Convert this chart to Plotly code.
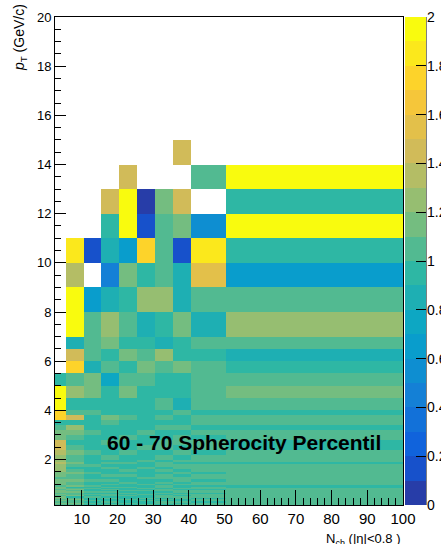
import plotly.graph_objects as go

# ---- bin edges ----
x_edges = [2.5, 5.5, 10.5, 15.5, 20.5, 25.5, 30.5, 35.5, 40.5, 50.5, 100]
y_edges = [0.15, 0.2, 0.25, 0.3, 0.35, 0.4, 0.45, 0.5, 0.55, 0.6, 0.65, 0.7, 0.75, 0.8, 0.85, 0.9, 0.95, 1.0,
           1.1, 1.2, 1.3, 1.4, 1.5, 1.6, 1.7, 1.8, 1.9, 2.0,
           2.2, 2.4, 2.6, 2.8, 3.0, 3.2, 3.4, 3.6, 3.8, 4.0,
           4.5, 5.0, 5.5, 6.0, 6.5, 7.0,
           8.0, 9.0, 10.0, 11.0, 12.0, 13.0, 14.0, 15.0,
           16.0, 18.0, 20.0]

N = None
# ---- values per Nch column, from lowest pT bin to highest ----
col_3_5 = [1.05, 1.1, 1.05, 1.15, 1.05, 1.1, 1.15, 1.05, 1.1, 1.05, 1.15, 1.1, 1.05, 1.15, 1.1, 1.05, 1.15,
           1.1, 1.15, 1.05, 1.15, 1.1, 1.2, 1.25, 1.2, 1.3, 1.25,
           1.25, 1.3, 1.4, 1.45, 1.15, 1.1, 1.05, 0.9, 1.7, 1.75,
           2.5, 2.5, 0.95, N, N, N,
           N, N, N, N, N, N, N, N,
           N, N, N]
col_6_10 = [1.05, 1.1, 1.05, 1.0, 1.1, 1.05, 0.95, 1.1, 1.05, 1.0, 1.1, 1.05, 1.15, 1.05, 0.95, 1.1, 1.05,
            1.05, 1.1, 1.0, 1.05, 1.15, 1.05, 0.95, 1.05, 1.1, 1.05,
            1.05, 1.1, 1.05, 0.95, 1.05, 1.1, 1.25, 0.95, 1.4, 1.05,
            0.95, 1.25, 1.05, 1.75, 1.45, 0.88,
            2.5, 2.5, 1.35, 1.85, N, N, N, N,
            N, N, N]
col_11_15 = [0.95, 1.0, 0.95, 1.05, 0.95, 0.9, 1.05, 0.95, 1.0, 0.95, 1.05, 0.95, 0.95, 1.05, 0.95, 1.0, 0.95,
             0.95, 1.05, 0.95, 0.95, 1.05, 0.95, 0.95, 1.05, 0.95, 0.95,
             0.95, 1.05, 0.95, 0.95, 0.95, 1.05, 0.95, 0.95, 0.95, 1.05,
             0.95, 1.15, 1.15, 0.85, 1.05, 1.05,
             1.05, 0.68, N, 0.15, N, N, N, N,
             N, N, N]
col_16_20 = [1.05, 0.95, 1.05, 0.95, 0.95, 1.05, 0.95, 1.05, 1.0, 0.95, 1.05, 0.95, 1.05, 0.95, 1.05, 0.95, 1.0,
             0.95, 1.05, 0.95, 1.05, 0.95, 0.95, 1.05, 0.95, 1.05, 0.95,
             1.05, 0.95, 0.95, 1.05, 0.95, 0.95, 0.95, 1.05, 1.15, 0.95,
             0.95, 0.95, 0.75, 1.05, 0.95, 1.15,
             1.25, 0.85, 0.45, 0.85, 0.95, 1.45, N, N,
             N, N, N]
col_21_25 = [0.95, 1.05, 0.95, 0.95, 1.05, 0.9, 0.95, 1.05, 0.95, 1.0, 0.95, 1.05, 0.95, 0.95, 1.05, 0.95, 0.95,
             1.05, 0.95, 0.95, 1.05, 0.95, 1.05, 0.95, 0.95, 1.05, 0.95,
             0.95, 1.05, 0.95, 0.95, 1.05, 0.95, 0.95, 0.95, 1.05, 0.95,
             0.95, 1.15, 1.05, 0.95, 1.15, 0.95,
             1.05, 0.95, 1.15, 0.65, 2.5, 2.5, 1.45, N,
             N, N, N]
col_26_30 = [1.05, 0.95, 0.95, 1.05, 0.95, 1.05, 0.95, 0.95, 1.05, 0.95, 0.95, 1.05, 0.95, 1.05, 0.95, 0.95, 1.05,
             0.95, 0.95, 1.05, 0.95, 0.95, 0.95, 1.05, 0.95, 0.95, 1.05,
             0.95, 0.95, 1.05, 0.95, 0.95, 1.05, 0.95, 0.95, 0.95, 0.95,
             0.95, 0.95, 1.05, 1.15, 1.05, 0.95,
             0.85, 1.25, 0.95, 1.75, 0.15, 0.05, N, N,
             N, N, N]
col_31_35 = [0.95, 1.05, 1.05, 0.95, 1.05, 0.95, 1.05, 1.05, 0.95, 1.05, 0.95, 1.05, 1.05, 0.95, 1.05, 1.05, 0.95,
             1.05, 0.95, 1.05, 1.05, 0.95, 1.05, 0.95, 1.05, 1.05, 0.95,
             1.05, 0.95, 1.05, 1.05, 0.95, 0.95, 1.05, 0.95, 1.05, 0.95,
             1.05, 0.95, 0.95, 1.05, 1.25, 0.85,
             0.95, 1.25, 1.05, 1.05, 1.05, 1.15, N, N,
             N, N, N]
col_36_40 = [1.05, 0.95, 1.05, 0.95, 0.95, 1.05, 1.05, 0.95, 1.05, 0.95, 1.05, 1.05, 0.95, 1.05, 0.95, 0.95, 1.05,
             0.95, 1.05, 1.05, 0.95, 1.05, 0.95, 1.05, 1.05, 0.95, 1.05,
             0.95, 1.05, 0.95, 1.05, 1.05, 0.95, 1.05, 0.95, 0.95, 1.05,
             0.85, 0.95, 0.95, 1.15, 0.95, 0.95,
             1.15, 0.85, 0.85, 0.15, 1.15, 1.45, N, 1.45,
             N, N, N]
col_41_50 = [1.05, 1.05, 0.95, 1.05, 1.05, 0.95, 1.05, 1.05, 1.05, 0.95, 1.05, 1.05, 0.95, 1.05, 1.05, 0.95, 1.05,
             1.05, 0.95, 1.05, 1.05, 0.95, 1.05, 1.05, 1.05, 0.95, 1.05,
             1.05, 0.95, 1.05, 1.05, 0.95, 1.05, 0.95, 1.05, 1.05, 0.95,
             1.05, 1.05, 1.05, 1.05, 0.95, 1.05,
             0.85, 1.05, 1.55, 1.85, 0.55, N, 1.05, N,
             N, N, N]
col_51_100 = [1.05, 1.05, 1.05, 1.05, 1.05, 1.05, 1.05, 1.05, 1.05, 1.05, 1.05, 1.05, 1.05, 1.05, 0.95, 0.95, 1.05,
              1.05, 1.05, 1.05, 1.05, 1.05, 1.05, 1.05, 1.05, 0.95, 1.05,
              1.05, 1.05, 0.95, 0.95, 1.05, 1.05, 0.95, 1.05, 1.05, 0.95,
              1.05, 1.15, 1.05, 0.95, 0.85, 1.05,
              1.25, 1.05, 0.65, 0.95, 2.5, 0.95, 2.5, N,
              N, N, N]

columns = [col_3_5, col_6_10, col_11_15, col_16_20, col_21_25,
           col_26_30, col_31_35, col_36_40, col_41_50, col_51_100]

x_tick_vals = [10, 20, 30, 40, 50, 60, 70, 80, 90, 100]
y_tick_vals = [2, 4, 6, 8, 10, 12, 14, 16, 18, 20]
cbar_tick_vals = [0, 0.2, 0.4, 0.6, 0.8, 1.0, 1.2, 1.4, 1.6, 1.8, 2.0]
cbar_tick_text = ["0", "0.2", "0.4", "0.6", "0.8", "1", "1.2", "1.4", "1.6", "1.8", "2"]

# ---- ROOT kBird palette, 20 contour levels ----
stops = [0.0, 0.125, 0.25, 0.375, 0.5, 0.625, 0.75, 0.875, 1.0]
red = [0.2082, 0.0592, 0.0780, 0.0232, 0.1802, 0.5301, 0.8186, 0.9956, 0.9764]
green = [0.1664, 0.3599, 0.5041, 0.6419, 0.7178, 0.7492, 0.7328, 0.7862, 0.9832]
blue = [0.5293, 0.8684, 0.8385, 0.7914, 0.6425, 0.4662, 0.3499, 0.1968, 0.0539]


def bird(t):
    for k in range(len(stops) - 1):
        if t <= stops[k + 1] + 1e-12:
            f = (t - stops[k]) / (stops[k + 1] - stops[k])
            r = red[k] + f * (red[k + 1] - red[k])
            g = green[k] + f * (green[k + 1] - green[k])
            b = blue[k] + f * (blue[k + 1] - blue[k])
            return "rgb(%d,%d,%d)" % (round(r * 255), round(g * 255), round(b * 255))
    return "rgb(249,251,14)"


ndiv = 20
ncol = 255
colorscale = []
for i in range(ndiv):
    idx = int((i + 0.99) * ncol / ndiv)
    c = bird(min(idx / (ncol - 1), 1.0))
    colorscale.append([i / ndiv, c])
    colorscale.append([(i + 1) / ndiv, c])

z = [[columns[j][i] for j in range(len(columns))] for i in range(len(y_edges) - 1)]

FONT = "Liberation Sans, Arial, Helvetica, sans-serif"

# layout geometry (pixels)
W, H = 441, 544
ML, MR, MT, MB = 55, 38, 17, 39
PW = W - ML - MR
PH = H - MT - MB
CB_LEFT = 405
CB_THICK = 21
cb_x = (CB_LEFT - ML) / PW
cb_right = (CB_LEFT + CB_THICK - ML) / PW
lab_x = (CB_LEFT + CB_THICK - 1 - ML) / PW

fig = go.Figure()
fig.add_trace(go.Heatmap(
    x=x_edges, y=y_edges, z=z,
    zmin=0, zmax=2, colorscale=colorscale,
    hoverongaps=False,
    colorbar=dict(
        x=cb_x, xanchor="left", xpad=0, ypad=0,
        y=0.5, yanchor="middle", len=1, lenmode="fraction",
        thickness=CB_THICK, thicknessmode="pixels",
        outlinewidth=0,
        tickvals=cbar_tick_vals, showticklabels=False,
        ticks="inside", ticklen=10, tickcolor="black", tickwidth=1,
    ),
))

annotations = [
    dict(text="<b>60 - 70 Spherocity Percentil</b>", xref="paper", yref="paper",
         x=0.5445, y=0.129, xanchor="center", yanchor="middle", showarrow=False,
         font=dict(family=FONT, size=21, color="black")),
    dict(text="N<sub>ch</sub> (|η|&lt;0.8 )", xref="paper", yref="paper",
         x=1.0, y=-0.05, xanchor="right", yanchor="top", showarrow=False,
         font=dict(family=FONT, size=13, color="black")),
    dict(text="<i>p</i><sub>T</sub> (GeV/c)", xref="paper", yref="paper",
         x=-0.1, y=1.03, xanchor="center", yanchor="top", textangle=-90, showarrow=False,
         font=dict(family=FONT, size=14, color="black")),
]
for v, t in zip(cbar_tick_vals, cbar_tick_text):
    annotations.append(dict(text=t, xref="paper", yref="paper", x=lab_x, y=v / 2.0,
                            xanchor="left", yanchor="middle", showarrow=False,
                            font=dict(family=FONT, size=14, color="black")))

fig.update_layout(
    width=W, height=H,
    margin=dict(l=ML, r=MR, t=MT, b=MB, autoexpand=False, pad=0),
    paper_bgcolor="white", plot_bgcolor="white",
    font=dict(family=FONT, color="black"),
    showlegend=False,
    xaxis=dict(
        range=[2.5, 100], tickvals=x_tick_vals,
        ticks="inside", ticklen=15, tickwidth=1, tickcolor="black",
        minor=dict(dtick=2, tick0=0, ticks="inside", ticklen=7, tickcolor="black", tickwidth=1),
        showgrid=False, zeroline=False,
        showline=True, linecolor="black", linewidth=1, mirror=True,
        tickfont=dict(family=FONT, size=15, color="black"),
        layer="above traces",
    ),
    yaxis=dict(
        range=[0.15, 20], tickvals=y_tick_vals,
        ticks="inside", ticklen=11, tickwidth=1, tickcolor="black",
        minor=dict(dtick=0.5, tick0=0, ticks="inside", ticklen=6, tickcolor="black", tickwidth=1),
        showgrid=False, zeroline=False,
        showline=True, linecolor="black", linewidth=1, mirror=True,
        tickfont=dict(family=FONT, size=13, color="black"),
        layer="above traces",
    ),
    annotations=annotations,
    shapes=[dict(type="line", xref="paper", yref="paper", x0=cb_right, x1=cb_right, y0=0, y1=1,
                 line=dict(color="black", width=1))],
)

fig.write_html("out.html")
